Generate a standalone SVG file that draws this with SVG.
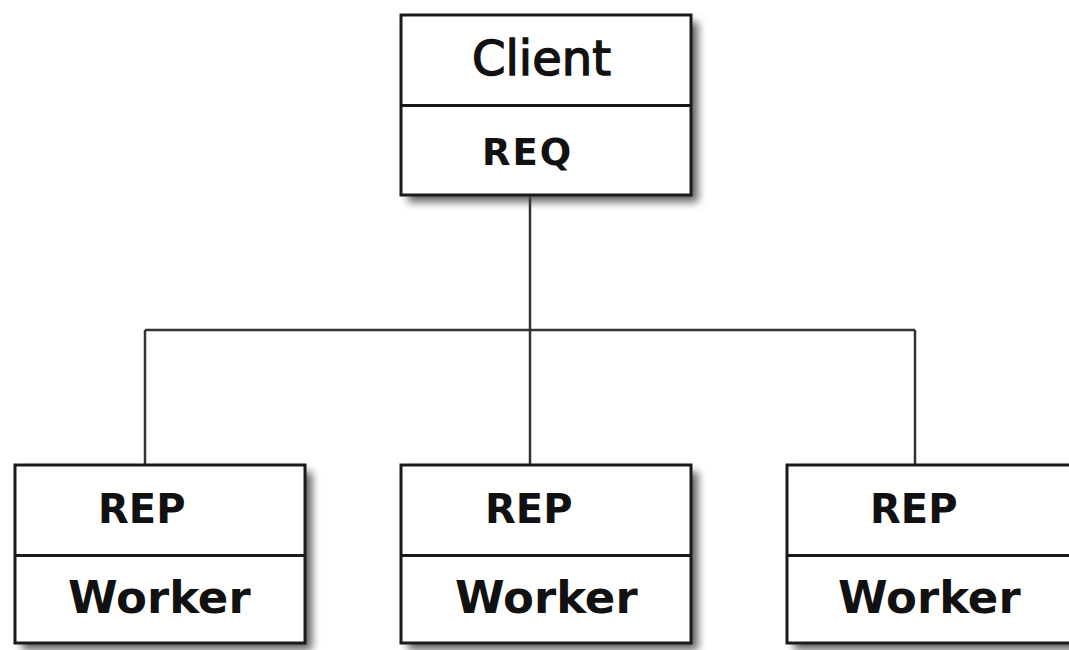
<svg xmlns="http://www.w3.org/2000/svg" width="1069" height="650" viewBox="0 0 1069 650">
<defs>
<filter id="blur" x="-10%" y="-10%" width="130%" height="130%"><feGaussianBlur stdDeviation="4"/></filter>
<style>
.sh{fill:#444;filter:url(#blur);opacity:0.85}
.bx{fill:#fff;stroke:#1a1a1a;stroke-width:3}
.dv{stroke:#1a1a1a;stroke-width:3}
.ln{stroke:#333;stroke-width:2.5;fill:none}
.t{font-family:"DejaVu Sans",sans-serif;fill:#111}
.b{font-weight:bold}
.m{stroke:#111;stroke-width:1.4}
</style>
</defs>
<g id="connectors">
<path class="ln" d="M530,195 V330 M145,330 H915 M145,330 V465 M530,330 V465 M915,330 V465"/>
</g>
<g id="client">
<rect class="sh" x="408" y="22" width="290" height="180"/>
<rect class="bx" x="401" y="15" width="290" height="180"/>
<line class="dv" x1="401" y1="105.5" x2="691" y2="105.5"/>
<text class="t m" x="472" y="75" font-size="48">Client</text>
<text class="t b" x="482" y="165" font-size="37" letter-spacing="2">REQ</text>
</g>
<g id="worker1">
<rect class="sh" x="22" y="472" width="290" height="178"/>
<rect class="bx" x="15" y="465" width="290" height="178"/>
<line class="dv" x1="15" y1="555.5" x2="305" y2="555.5"/>
<text class="t b" x="98" y="523" font-size="40">REP</text>
<text class="t b" x="68" y="613" font-size="45">Worker</text>
</g>
<g id="worker2">
<rect class="sh" x="408" y="472" width="290" height="178"/>
<rect class="bx" x="401" y="465" width="290" height="178"/>
<line class="dv" x1="401" y1="555.5" x2="691" y2="555.5"/>
<text class="t b" x="485" y="523" font-size="40">REP</text>
<text class="t b" x="455" y="613" font-size="45">Worker</text>
</g>
<g id="worker3">
<rect class="sh" x="794" y="472" width="290" height="178"/>
<rect class="bx" x="787" y="465" width="290" height="178"/>
<line class="dv" x1="787" y1="555.5" x2="1077" y2="555.5"/>
<text class="t b" x="870" y="523" font-size="40">REP</text>
<text class="t b" x="838" y="613" font-size="45">Worker</text>
</g>
</svg>
